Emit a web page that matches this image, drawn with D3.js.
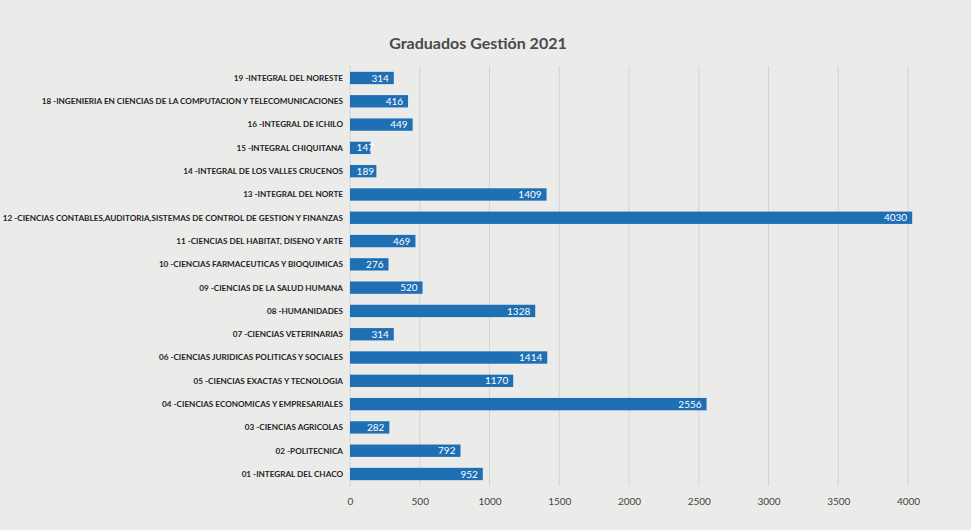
<!DOCTYPE html>
<html>
<head>
<meta charset="utf-8">
<script src="https://cdn.jsdelivr.net/npm/d3@7"></script>
<style>
  html, body { margin: 0; padding: 0; background: #ebebea; }
  svg { display: block; }
</style>
</head>
<body>
<svg id="chart" width="971" height="530"></svg>
<script>
'use strict';

// categories from top to bottom, as in the picture
const categories = [
  '19 -INTEGRAL DEL NORESTE',
  '18 -INGENIERIA EN CIENCIAS DE LA COMPUTACION Y TELECOMUNICACIONES',
  '16 -INTEGRAL DE ICHILO',
  '15 -INTEGRAL CHIQUITANA',
  '14 -INTEGRAL DE LOS VALLES CRUCENOS',
  '13 -INTEGRAL DEL NORTE',
  '12 -CIENCIAS CONTABLES,AUDITORIA,SISTEMAS DE CONTROL DE GESTION Y FINANZAS',
  '11 -CIENCIAS DEL HABITAT, DISENO Y ARTE',
  '10 -CIENCIAS FARMACEUTICAS Y BIOQUIMICAS',
  '09 -CIENCIAS DE LA SALUD HUMANA',
  '08 -HUMANIDADES',
  '07 -CIENCIAS VETERINARIAS',
  '06 -CIENCIAS JURIDICAS POLITICAS Y SOCIALES',
  '05 -CIENCIAS EXACTAS Y TECNOLOGIA',
  '04 -CIENCIAS ECONOMICAS Y EMPRESARIALES',
  '03 -CIENCIAS AGRICOLAS',
  '02 -POLITECNICA',
  '01 -INTEGRAL DEL CHACO'
];
const graduados = [314, 416, 449, 147, 189, 1409, 4030, 469, 276, 520, 1328, 314, 1414, 1170, 2556, 282, 792, 952];
const xTicks = [0, 500, 1000, 1500, 2000, 2500, 3000, 3500, 4000];
const title = 'Graduados Gestión 2021';

const data = categories.map((c, i) => ({ name: c, value: graduados[i] }));

const svg = d3.select('#chart');
const margin = { top: 66, left: 350, right: 63, bottom: 44 };
const width = 971 - margin.left - margin.right;
const height = 530 - margin.top - margin.bottom;

const x = d3.scaleLinear().domain([0, 4000]).range([0, width]);
const y = d3.scaleBand().domain(categories).range([0, height]).paddingInner(0.47).paddingOuter(0.25);

svg.append('text')
  .attr('x', 478)
  .attr('y', 49)
  .attr('text-anchor', 'middle')
  .style('font-family', 'Lato, "Open Sans", sans-serif')
  .style('font-weight', 'bold')
  .style('font-size', '16px')
  .style('fill', '#4a4a4a')
  .text(title);

const g = svg.append('g').attr('transform', `translate(${margin.left},${margin.top})`);

//Vertical gridlines
g.selectAll('.grid')
  .data(xTicks)
  .enter()
  .append('line')
  .attr('x1', d => x(d))
  .attr('x2', d => x(d))
  .attr('y1', 0)
  .attr('y2', height)
  .style('stroke', '#d4d4d4')
  .style('stroke-width', 1);

//Bars
g.selectAll('.bar')
  .data(data)
  .enter()
  .append('rect')
  .attr('x', 0)
  .attr('y', d => y(d.name))
  .attr('width', d => x(d.value))
  .attr('height', y.bandwidth())
  .style('fill', '#1f6fb4');

//Value labels inside the bar end
g.selectAll('.val')
  .data(data)
  .enter()
  .append('text')
  .attr('x', d => Math.max(x(d.value) - 5, 24))
  .attr('y', d => y(d.name) + y.bandwidth() / 2)
  .attr('dy', '0.36em')
  .attr('text-anchor', 'end')
  .style('font-family', 'Lato, "Open Sans", sans-serif')
  .style('font-size', '10px')
  .style('fill', '#ffffff')
  .text(d => d.value);

//Category labels
const cats = g.selectAll('.cat')
  .data(data)
  .enter()
  .append('text')
  .attr('x', -7)
  .attr('y', d => y(d.name) + y.bandwidth() / 2)
  .attr('dy', '0.35em')
  .attr('text-anchor', 'end')
  .style('font-family', 'Lato, "Open Sans", sans-serif')
  .style('font-weight', 'bold')
  .style('font-size', '9px')
  .style('fill', '#1e1e1e')
  .text(d => d.name);

//Shrink labels so the longest one fits the left margin
const longest = d3.max(cats.nodes(), n => n.getComputedTextLength());
const available = margin.left - 9;
if (longest > available) {
  cats.style('font-size', (9 * available / longest).toFixed(2) + 'px');
}

//X axis labels
const xAxis = g.append('g')
  .attr('transform', `translate(0,${height})`)
  .call(d3.axisBottom(x).tickValues(xTicks).tickFormat(d3.format('d')).tickSize(0).tickPadding(12));
xAxis.select('.domain').remove();
xAxis.selectAll('text')
  .style('font-family', 'Lato, "Open Sans", sans-serif')
  .style('font-size', '10px')
  .style('fill', '#444');
</script>
</body>
</html>
